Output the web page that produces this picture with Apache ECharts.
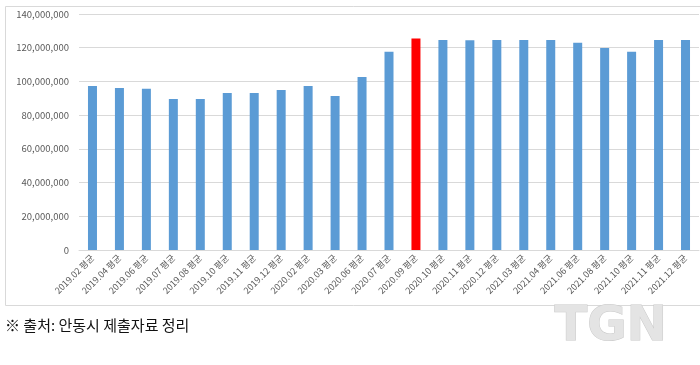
<!DOCTYPE html>
<html><head><meta charset="utf-8">
<script src="https://cdn.jsdelivr.net/npm/echarts@6/dist/echarts.min.js"></script>
<style>html,body{margin:0;padding:0;background:#fff}#c{width:700px;height:365px}</style>
</head><body><div id="c"></div>
<script>
const categories = ["2019.02 평균","2019.04 평균","2019.06 평균","2019.07 평균","2019.08 평균","2019.10 평균","2019.11 평균","2019.12 평균","2020.02 평균","2020.03 평균","2020.06 평균","2020.07 평균","2020.09 평균","2020.10 평균","2020.11 평균","2020.12 평균","2021.03 평균","2021.04 평균","2021.06 평균","2021.08 평균","2021.10 평균","2021.11 평균","2021.12 평균"];
const values = [97300000,96100000,95700000,89600000,89600000,93100000,93100000,94900000,97300000,91300000,102600000,117600000,125500000,124600000,124400000,124600000,124600000,124600000,123000000,119800000,117600000,124600000,124600000];
const highlightCategory = "2020.09 평균";
const yTicks = {min: 0, max: 140000000, interval: 20000000};
const caption = "※ 출처: 안동시 제출자료 정리";
const logoText = "TGN";

const chart = echarts.init(document.getElementById('c'), null, {renderer: 'canvas'});
chart.setOption({
  animation: false,
  grid: {left: 79, right: 1, top: 14, bottom: 115},
  xAxis: {
    type: 'category', data: categories,
    axisLine: {lineStyle: {color: '#d9d9d9'}},
    axisTick: {show: false},
    axisLabel: {rotate: 45, fontSize: 9, color: '#595959', fontFamily: 'Noto Sans CJK KR', margin: 6, interval: 0}
  },
  yAxis: {
    type: 'value', min: yTicks.min, max: yTicks.max, interval: yTicks.interval,
    axisLine: {show: false}, axisTick: {show: false},
    splitLine: {lineStyle: {color: '#d9d9d9'}},
    axisLabel: {fontSize: 9.5, color: '#595959', fontFamily: 'Noto Sans CJK KR', margin: 10,
      formatter: v => v.toLocaleString('en-US')}
  },
  series: [{
    type: 'bar', barWidth: 9,
    data: values.map((v, i) => ({value: v, itemStyle: {color: categories[i] === highlightCategory ? '#ff0000' : '#5b9bd5'}}))
  }],
  graphic: [
    {type: 'rect', left: 3, top: 4, shape: {width: 720, height: 299}, style: {fill: 'none', stroke: '#d9d9d9', lineWidth: 1}, z: -1},
    {type: 'text', left: 5, top: 318, style: {text: caption, fontSize: 15, fill: '#111', fontFamily: 'Noto Sans CJK KR'}},
    {type: 'text', left: 554, top: 303, style: {text: logoText, fontSize: 48, fontWeight: 'bold', fontFamily: 'DejaVu Sans',
      fill: '#e4e4e4', stroke: '#c8c8c8', lineWidth: 1}}
  ]
});
</script></body></html>
